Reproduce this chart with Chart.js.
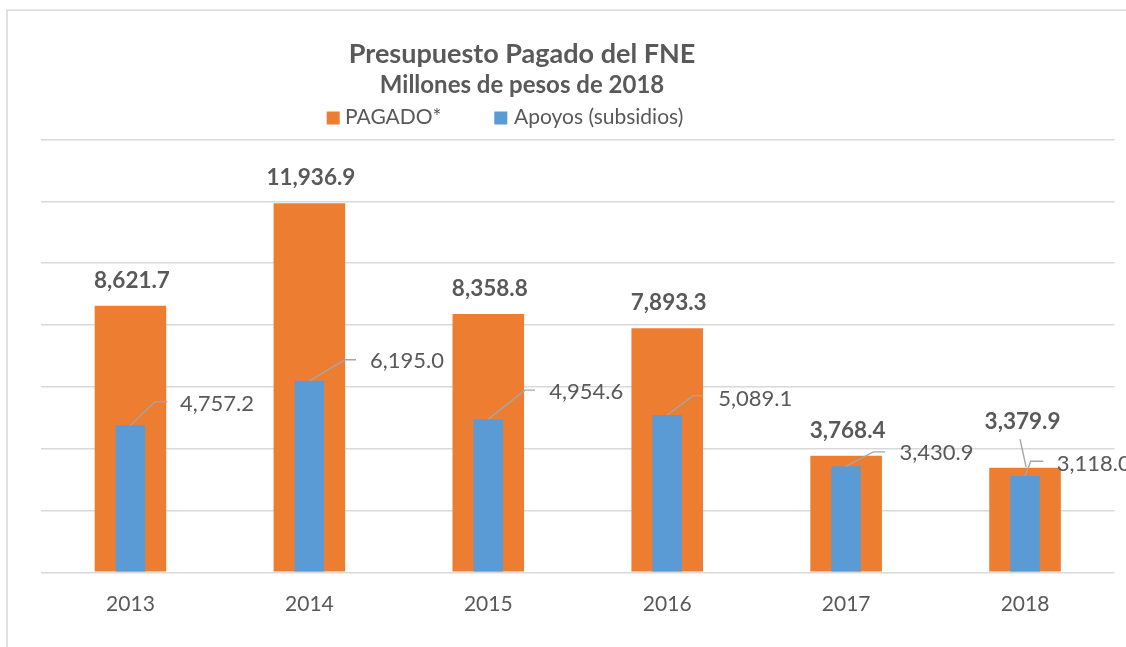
<!DOCTYPE html>
<html><head><meta charset="utf-8">
<script src="https://cdn.jsdelivr.net/npm/chart.js@4/dist/chart.umd.min.js"></script>
<style>html,body{margin:0;padding:0;background:#fff;overflow:hidden;} #wrap{width:1126px;height:647px;position:relative;}</style>
</head><body><div id="wrap"><canvas id="c"></canvas></div>
<script>
const categories = ['2013', '2014', '2015', '2016', '2017', '2018'];
const pagado = [8621.7, 11936.9, 8358.8, 7893.3, 3768.4, 3379.9];
const apoyos = [4757.2, 6195.0, 4954.6, 5089.1, 3430.9, 3118.0];
const seriesNames = ['PAGADO*', 'Apoyos (subsidios)'];
const titleText = 'Presupuesto Pagado del FNE';
const subtitleText = 'Millones de pesos de 2018';
const yMin = 0, yMax = 14000, yStep = 2000;

const ORANGE = '#ED7D31', BLUE = '#5B9BD5', TEXT = '#595959', GRID = '#D9D9D9', LEADER = '#A6A6A6';
const FONT = 'Lato, "Open Sans", sans-serif';

// label placement (style): [elbowDx, elbowDy, lineEndDx, labelDx, labelBaselineDy] relative to bar top-centre
const blueLabelPlace = [
  [24.5, -23.4, 36.8, 49.5, -13.8],
  [35.6, -21.0, 46.6, 60.6, -12.8],
  [36.7, -29.0, 46.7, 61.0, -20.2],
  [26.0, -19.3, 36.0, 51.0, -8.8],
  [27.3, -14.4, 39.0, 53.3, -6.2],
  [5.7, -14.6, 18.3, 31.7, -5.1]
];
// [labelCentreDx, labelBaselineDy, leader?]
const orangeLabelPlace = [
  [1.5, -18, false], [1.5, -18, false], [1.5, -18, false], [1.5, -18, false], [1.5, -18, false], [-2.5, -39.3, true]
];

const fmt = v => v.toLocaleString('en-US', {minimumFractionDigits: 1, maximumFractionDigits: 1});

const decor = {
  id: 'decor',
  beforeDraw(chart) {
    const ctx = chart.ctx;
    ctx.save();
    ctx.fillStyle = '#fff';
    ctx.fillRect(0, 0, chart.width, chart.height);
    ctx.strokeStyle = GRID;
    ctx.lineWidth = 1.5;
    ctx.beginPath();
    ctx.moveTo(7, 647); ctx.lineTo(7, 10.3); ctx.lineTo(1126, 10.3);
    ctx.stroke();
    // titles
    ctx.fillStyle = TEXT;
    ctx.textAlign = 'center';
    ctx.textBaseline = 'alphabetic';
    ctx.font = 'bold 27px ' + FONT;
    ctx.fillText(titleText, 522, 63);
    ctx.font = 'bold 24px ' + FONT;
    ctx.fillText(subtitleText, 522, 92.5);
    // legend
    ctx.textAlign = 'left';
    ctx.font = '21px ' + FONT;
    const items = [[326.7, ORANGE, seriesNames[0], 345], [494.3, BLUE, seriesNames[1], 514]];
    items.forEach(([bx, col, txt, tx]) => {
      ctx.fillStyle = col;
      ctx.fillRect(bx, 111.5, 13, 13);
      ctx.fillStyle = TEXT;
      ctx.fillText(txt, tx, 124.3);
    });
    ctx.restore();
  },
  afterDatasetsDraw(chart) {
    const ctx = chart.ctx;
    const mo = chart.getDatasetMeta(0).data;
    const mb = chart.getDatasetMeta(1).data;
    ctx.save();
    ctx.strokeStyle = LEADER;
    ctx.lineWidth = 1.4;
    ctx.fillStyle = TEXT;
    ctx.textBaseline = 'alphabetic';
    // orange labels
    ctx.font = 'bold 22.5px ' + FONT;
    ctx.textAlign = 'center';
    mo.forEach((bar, i) => {
      const p = orangeLabelPlace[i];
      const lx = bar.x + p[0], ly = bar.y + p[1];
      ctx.fillText(fmt(pagado[i]), lx, ly);
      if (p[2]) {
        ctx.beginPath();
        ctx.moveTo(lx - 2.5, ly + 10.7);
        ctx.lineTo(bar.x + 1, bar.y - 1);
        ctx.stroke();
      }
    });
    // blue labels with leader lines
    ctx.font = '22px ' + FONT;
    ctx.textAlign = 'left';
    mb.forEach((bar, i) => {
      const p = blueLabelPlace[i];
      ctx.beginPath();
      ctx.moveTo(bar.x, bar.y);
      ctx.lineTo(bar.x + p[0], bar.y + p[1]);
      ctx.lineTo(bar.x + p[2], bar.y + p[1]);
      ctx.stroke();
      ctx.fillText(fmt(apoyos[i]), bar.x + p[3], bar.y + p[4]);
    });
    ctx.restore();
  }
};

new Chart(document.getElementById('c'), {
  type: 'bar',
  data: {
    labels: categories,
    datasets: [
      {label: seriesNames[0], data: pagado, backgroundColor: ORANGE, grouped: false, order: 2,
       categoryPercentage: 1, barPercentage: 0.4},
      {label: seriesNames[1], data: apoyos, backgroundColor: BLUE, grouped: false, order: 1,
       categoryPercentage: 1, barPercentage: 0.165}
    ]
  },
  options: {
    responsive: true,
    maintainAspectRatio: false,
    animation: false,
    devicePixelRatio: 1,
    layout: {padding: {left: 41, right: 11.5, top: 139.5, bottom: 10.5}},
    plugins: {legend: {display: false}, title: {display: false}, tooltip: {enabled: false}},
    scales: {
      x: {
        grid: {display: false, drawTicks: false},
        border: {display: false},
        ticks: {color: TEXT, font: {family: FONT, size: 21}, padding: 19.5}
      },
      y: {
        min: yMin, max: yMax,
        ticks: {display: false, stepSize: yStep},
        grid: {color: GRID, lineWidth: 1.5, drawTicks: false},
        border: {display: false}
      }
    }
  },
  plugins: [decor]
});
</script>
</body></html>
